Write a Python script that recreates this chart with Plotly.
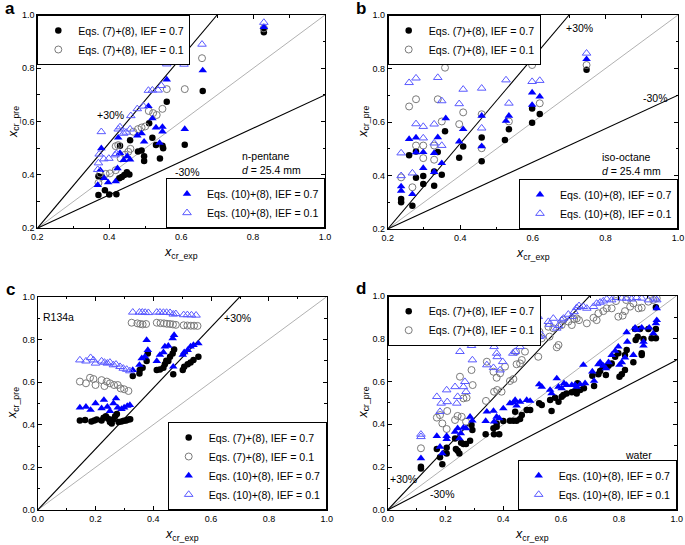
import plotly.graph_objects as go

# ---------------- data (x_cr_exp, x_cr_pre) ----------------
# Panel a: n-pentane
a_eq7_ief07 = [[0.370,0.325],[0.370,0.395],[0.380,0.392],[0.388,0.343],[0.400,0.327],[0.420,0.328],[0.428,0.388],[0.435,0.392],[0.442,0.400],[0.449,0.410],[0.456,0.402],[0.430,0.510],[0.458,0.530],[0.480,0.488],[0.490,0.492],[0.497,0.470],[0.497,0.452],[0.511,0.594],[0.520,0.540],[0.530,0.512],[0.541,0.462],[0.548,0.510],[0.550,0.500],[0.560,0.675],[0.610,0.513],[0.660,0.715],[0.830,0.935],[0.830,0.945]]
a_eq7_ief01 = [[0.370,0.370],[0.375,0.405],[0.390,0.404],[0.402,0.406],[0.418,0.418],[0.418,0.508],[0.425,0.512],[0.432,0.462],[0.444,0.476],[0.453,0.487],[0.459,0.498],[0.467,0.562],[0.480,0.572],[0.490,0.578],[0.500,0.582],[0.510,0.640],[0.522,0.632],[0.532,0.625],[0.548,0.648],[0.560,0.722],[0.610,0.722],[0.658,0.838],[0.830,0.950]]
a_eq10_ief07 = [[0.368,0.362],[0.375,0.418],[0.378,0.500],[0.386,0.388],[0.397,0.372],[0.418,0.376],[0.423,0.425],[0.425,0.540],[0.430,0.482],[0.440,0.456],[0.450,0.470],[0.458,0.458],[0.478,0.548],[0.490,0.556],[0.497,0.525],[0.509,0.658],[0.520,0.612],[0.530,0.578],[0.540,0.520],[0.548,0.580],[0.548,0.563],[0.560,0.758],[0.610,0.572],[0.660,0.792],[0.830,0.955]]
a_eq10_ief01 = [[0.368,0.420],[0.370,0.445],[0.372,0.478],[0.378,0.562],[0.385,0.460],[0.399,0.462],[0.416,0.475],[0.420,0.480],[0.425,0.572],[0.430,0.580],[0.440,0.556],[0.447,0.560],[0.458,0.572],[0.460,0.622],[0.478,0.648],[0.495,0.658],[0.509,0.717],[0.520,0.718],[0.536,0.718],[0.545,0.735],[0.560,0.816],[0.608,0.815],[0.658,0.890],[0.830,0.972]]

# Panel b: iso-octane
b_eq7_ief07 = [[0.237,0.300],[0.237,0.312],[0.268,0.287],[0.259,0.476],[0.278,0.490],[0.278,0.392],[0.298,0.368],[0.298,0.398],[0.328,0.362],[0.328,0.415],[0.338,0.488],[0.349,0.403],[0.358,0.565],[0.397,0.466],[0.408,0.508],[0.459,0.453],[0.459,0.542],[0.523,0.533],[0.534,0.573],[0.598,0.597],[0.598,0.650],[0.619,0.630],[0.748,0.795]]
b_eq7_ief01 = [[0.237,0.393],[0.259,0.658],[0.268,0.356],[0.278,0.685],[0.278,0.512],[0.298,0.512],[0.298,0.465],[0.328,0.459],[0.328,0.512],[0.338,0.685],[0.349,0.602],[0.358,0.803],[0.397,0.592],[0.408,0.636],[0.459,0.629],[0.459,0.502],[0.534,0.602],[0.598,0.813],[0.619,0.670],[0.748,0.813]]
b_eq10_ief07 = [[0.237,0.359],[0.237,0.343],[0.259,0.536],[0.268,0.330],[0.278,0.542],[0.278,0.486],[0.298,0.487],[0.298,0.428],[0.328,0.413],[0.328,0.484],[0.338,0.543],[0.349,0.446],[0.360,0.614],[0.397,0.527],[0.408,0.573],[0.459,0.623],[0.459,0.509],[0.526,0.604],[0.534,0.623],[0.598,0.710],[0.598,0.664],[0.619,0.695],[0.748,0.835]]
b_eq10_ief01 = [[0.237,0.484],[0.237,0.399],[0.259,0.747],[0.268,0.409],[0.278,0.764],[0.278,0.593],[0.298,0.583],[0.298,0.540],[0.328,0.592],[0.328,0.521],[0.338,0.766],[0.349,0.679],[0.349,0.512],[0.360,0.860],[0.397,0.668],[0.408,0.722],[0.459,0.726],[0.459,0.577],[0.526,0.757],[0.534,0.670],[0.598,0.863],[0.598,0.751],[0.619,0.755],[0.748,0.857]]

# Panel c: R134a
c_eq7_ief07 = [[0.146,0.420],[0.164,0.422],[0.186,0.415],[0.196,0.420],[0.204,0.424],[0.221,0.420],[0.228,0.432],[0.236,0.440],[0.244,0.428],[0.250,0.412],[0.256,0.405],[0.262,0.425],[0.268,0.440],[0.274,0.450],[0.280,0.412],[0.290,0.415],[0.298,0.418],[0.306,0.420],[0.314,0.424],[0.320,0.425],
               [0.329,0.628],[0.352,0.640],[0.353,0.656],[0.363,0.667],[0.377,0.698],[0.381,0.734],[0.412,0.656],[0.423,0.659],[0.435,0.667],[0.440,0.683],[0.445,0.700],[0.452,0.698],[0.458,0.719],[0.467,0.734],[0.472,0.753],[0.469,0.636],[0.502,0.656],[0.507,0.672],[0.519,0.683],[0.529,0.692],[0.539,0.703],[0.556,0.719]]
c_eq7_ief01 = [[0.146,0.602],[0.167,0.594],[0.181,0.620],[0.193,0.614],[0.200,0.586],[0.221,0.609],[0.231,0.581],[0.239,0.602],[0.250,0.594],[0.264,0.586],[0.277,0.586],[0.287,0.570],[0.299,0.566],[0.314,0.558],
               [0.325,0.878],[0.345,0.875],[0.355,0.872],[0.363,0.870],[0.375,0.872],[0.412,0.878],[0.425,0.876],[0.437,0.875],[0.447,0.873],[0.458,0.872],[0.468,0.870],[0.478,0.868],[0.505,0.866],[0.518,0.865],[0.530,0.864],[0.541,0.864],[0.553,0.863]]
c_eq10_ief07 = [[0.146,0.480],[0.167,0.484],[0.183,0.469],[0.200,0.500],[0.221,0.477],[0.229,0.516],[0.241,0.484],[0.250,0.464],[0.262,0.500],[0.271,0.523],[0.277,0.480],[0.290,0.473],[0.299,0.480],[0.310,0.488],[0.319,0.492],
                [0.329,0.656],[0.352,0.680],[0.360,0.711],[0.371,0.719],[0.377,0.797],[0.381,0.750],[0.412,0.698],[0.423,0.727],[0.435,0.739],[0.440,0.766],[0.452,0.770],[0.467,0.805],[0.472,0.820],[0.469,0.672],[0.502,0.727],[0.507,0.739],[0.519,0.750],[0.529,0.766],[0.539,0.773],[0.556,0.781]]
c_eq10_ief01 = [[0.146,0.703],[0.167,0.698],[0.183,0.714],[0.193,0.703],[0.200,0.688],[0.221,0.698],[0.231,0.692],[0.241,0.688],[0.250,0.692],[0.262,0.680],[0.271,0.683],[0.285,0.672],[0.296,0.664],[0.308,0.659],[0.319,0.652],
                [0.329,0.927],[0.352,0.927],[0.362,0.927],[0.372,0.926],[0.383,0.925],[0.412,0.927],[0.423,0.927],[0.435,0.926],[0.446,0.926],[0.458,0.925],[0.469,0.918],[0.478,0.920],[0.505,0.915],[0.518,0.915],[0.532,0.914],[0.548,0.913]]

# Panel d: water
d_eq7_ief07 = [[0.115,0.194],[0.115,0.202],[0.170,0.285],[0.181,0.246],[0.189,0.213],[0.204,0.291],[0.204,0.264],[0.233,0.334],[0.236,0.285],[0.242,0.277],[0.248,0.264],[0.254,0.314],[0.262,0.308],[0.271,0.308],[0.285,0.323],[0.293,0.373],[0.290,0.397],
               [0.339,0.353],[0.366,0.381],[0.368,0.353],[0.377,0.389],[0.377,0.404],[0.386,0.353],[0.400,0.415],[0.423,0.417],[0.435,0.417],[0.441,0.459],[0.446,0.417],[0.458,0.425],[0.464,0.443],[0.481,0.467],[0.493,0.467],
               [0.524,0.498],[0.533,0.490],[0.562,0.513],[0.567,0.462],[0.579,0.524],[0.591,0.505],[0.602,0.529],[0.608,0.537],[0.619,0.544],[0.637,0.549],[0.648,0.555],[0.654,0.544],[0.666,0.560],[0.657,0.591],[0.679,0.568],
               [0.708,0.627],[0.714,0.579],[0.729,0.633],[0.735,0.649],[0.746,0.669],[0.755,0.630],[0.764,0.673],[0.775,0.684],[0.787,0.715],[0.798,0.731],[0.802,0.622],[0.810,0.633],[0.821,0.653],[0.821,0.723],[0.827,0.747],
               [0.850,0.689],[0.858,0.793],[0.865,0.809],[0.879,0.731],[0.879,0.723],[0.885,0.798],[0.856,0.845],[0.873,0.845],[0.902,0.845],[0.913,0.801],[0.928,0.801],[0.928,0.845],[0.928,0.946]]
d_eq7_ief01 = [[0.115,0.288],[0.170,0.431],[0.181,0.443],[0.189,0.404],[0.204,0.378],[0.206,0.462],[0.233,0.420],[0.242,0.439],[0.250,0.622],[0.256,0.435],[0.262,0.521],[0.271,0.412],[0.273,0.524],[0.290,0.653],[0.294,0.583],
               [0.340,0.509],[0.343,0.692],[0.366,0.645],[0.368,0.552],[0.377,0.617],[0.379,0.560],[0.389,0.638],[0.394,0.552],[0.406,0.669],[0.423,0.602],[0.433,0.785],[0.435,0.611],[0.444,0.739],[0.446,0.680],[0.458,0.684],[0.458,0.809],[0.464,0.700],[0.475,0.739],[0.487,0.809],
               [0.521,0.715],[0.525,0.832],[0.533,0.801],[0.556,0.855],[0.560,0.809],[0.573,0.848],[0.585,0.759],[0.591,0.770],[0.602,0.863],[0.608,0.886],[0.625,0.879],[0.637,0.863],[0.645,0.891],[0.654,0.894],[0.662,0.886],[0.689,0.871],
               [0.712,0.897],[0.723,0.886],[0.729,0.918],[0.746,0.928],[0.758,0.941],[0.775,0.941],[0.790,0.975],[0.798,0.902],[0.813,0.907],[0.821,0.928],[0.825,0.980],[0.839,0.949],[0.850,0.964],[0.868,0.941],[0.879,0.944],[0.902,0.972],[0.919,0.980],[0.931,0.988]]
d_eq10_ief07 = [[0.115,0.241],[0.170,0.345],[0.181,0.295],[0.189,0.264],[0.204,0.345],[0.204,0.331],[0.233,0.365],[0.242,0.381],[0.248,0.334],[0.253,0.358],[0.262,0.384],[0.271,0.381],[0.285,0.435],[0.293,0.417],
                [0.339,0.415],[0.343,0.459],[0.366,0.462],[0.368,0.412],[0.377,0.435],[0.386,0.428],[0.400,0.474],[0.423,0.498],[0.435,0.502],[0.441,0.513],[0.446,0.487],[0.458,0.505],[0.481,0.513],[0.493,0.509],
                [0.524,0.586],[0.533,0.575],[0.562,0.560],[0.567,0.544],[0.585,0.614],[0.591,0.575],[0.602,0.568],[0.610,0.591],[0.619,0.583],[0.637,0.583],[0.648,0.583],[0.654,0.575],[0.666,0.586],[0.677,0.677],[0.683,0.591],
                [0.708,0.646],[0.714,0.602],[0.729,0.680],[0.735,0.689],[0.746,0.673],[0.755,0.661],[0.764,0.689],[0.775,0.723],[0.787,0.742],[0.798,0.762],[0.802,0.677],[0.810,0.689],[0.821,0.711],[0.827,0.829],[0.829,0.785],
                [0.850,0.723],[0.856,0.851],[0.861,0.840],[0.879,0.851],[0.885,0.785],[0.885,0.767],[0.905,0.851],[0.919,0.824],[0.928,0.871],[0.931,0.886],[0.931,0.941]]
d_eq10_ief01 = [[0.115,0.342],[0.115,0.353],[0.170,0.529],[0.181,0.459],[0.185,0.498],[0.204,0.560],[0.206,0.505],[0.233,0.575],[0.239,0.498],[0.242,0.529],[0.250,0.739],[0.262,0.575],[0.267,0.599],[0.271,0.552],[0.290,0.767],[0.293,0.700],
                [0.340,0.798],[0.343,0.677],[0.366,0.664],[0.368,0.762],[0.377,0.731],[0.379,0.715],[0.389,0.653],[0.398,0.692],[0.400,0.793],[0.429,0.863],[0.433,0.731],[0.441,0.739],[0.446,0.798],[0.458,0.762],[0.464,0.801],[0.475,0.840],[0.487,0.863],
                [0.521,0.902],[0.525,0.809],[0.533,0.816],[0.556,0.879],[0.560,0.866],[0.573,0.894],[0.585,0.848],[0.591,0.860],[0.602,0.886],[0.608,0.894],[0.625,0.913],[0.637,0.902],[0.645,0.925],[0.654,0.944],[0.662,0.953],[0.677,0.949],[0.689,0.941],
                [0.712,0.949],[0.723,0.964],[0.735,0.969],[0.746,0.975],[0.758,0.984],[0.775,0.980],[0.790,0.991],[0.810,0.988],[0.827,0.988],[0.844,0.984],[0.861,0.991],[0.879,0.988],[0.902,0.980],[0.925,0.988],[0.931,0.980]]

# reference lines (start, end) for each panel
lines_ab = {"diag": [[0.2, 0.2], [1.0, 1.0]], "plus30": [[0.2, 0.2], [0.7, 1.0]], "minus30": [[0.2, 0.2], [1.0, 0.7]]}
lines_c = {"diag": [[0.0, 0.0], [1.0, 1.0]], "plus30": [[0.0, 0.0], [0.7, 1.0]]}
lines_d = {"diag": [[0.0, 0.0], [1.0, 1.0]], "plus30": [[0.0, 0.0], [0.7, 1.0]], "minus30": [[0.0, 0.0], [1.0, 0.7]]}

labels = ["Eqs. (7)+(8), IEF = 0.7", "Eqs. (7)+(8), IEF = 0.1",
          "Eqs. (10)+(8), IEF = 0.7", "Eqs. (10)+(8), IEF = 0.1"]

# ---------------- layout geometry ----------------
W, H = 685, 545
FONT = "Arial, Liberation Sans, sans-serif"

def px_x(p):
    return p / W

def px_y(p):
    return 1 - p / H

panels = {
    "a": dict(x=(37.3, 325.0), y=(15.0, 228.3), rng=[0.2, 1.0]),
    "b": dict(x=(387.7, 678.0), y=(15.0, 229.0), rng=[0.2, 1.0]),
    "c": dict(x=(37.7, 326.7), y=(296.7, 510.0), rng=[0.0, 1.0]),
    "d": dict(x=(387.7, 676.7), y=(295.7, 510.0), rng=[0.0, 1.0]),
}

styles = [
    dict(symbol="circle", size=6.5, color="black", line=dict(width=0)),
    dict(symbol="circle-open", size=7, color="#7a7a7a", line=dict(width=1)),
    dict(symbol="triangle-up", size=7.5, color="#0000ff", line=dict(width=0)),
    dict(symbol="triangle-up-open", size=7.5, color="#5a5aff", line=dict(width=1)),
]

fig = go.Figure()

def add_panel(idx, series, line_set, legends):
    sx = "" if idx == 1 else str(idx)
    xa, ya = "x" + sx, "y" + sx
    for name, (p0, p1) in line_set.items():
        fig.add_trace(go.Scatter(
            x=[p0[0], p1[0]], y=[p0[1], p1[1]], mode="lines",
            line=dict(color="#a8a8a8" if name == "diag" else "black",
                      width=0.9 if name == "diag" else 1.1),
            xaxis=xa, yaxis=ya, showlegend=False, hoverinfo="skip"))
    for i, data in enumerate(series):
        fig.add_trace(go.Scatter(
            x=[p[0] for p in data], y=[p[1] for p in data], mode="markers",
            marker=styles[i], name=labels[i], xaxis=xa, yaxis=ya,
            legend=legends[i], showlegend=True))

add_panel(1, [a_eq7_ief07, a_eq7_ief01, a_eq10_ief07, a_eq10_ief01], lines_ab,
          ["legend", "legend", "legend2", "legend2"])
add_panel(2, [b_eq7_ief07, b_eq7_ief01, b_eq10_ief07, b_eq10_ief01], lines_ab,
          ["legend3", "legend3", "legend4", "legend4"])
add_panel(3, [c_eq7_ief07, c_eq7_ief01, c_eq10_ief07, c_eq10_ief01], lines_c,
          ["legend5", "legend5", "legend5", "legend5"])
add_panel(4, [d_eq7_ief07, d_eq7_ief01, d_eq10_ief07, d_eq10_ief01], lines_d,
          ["legend6", "legend6", "legend7", "legend7"])

def axis(rng, dom, anchor):
    return dict(range=rng, domain=dom, anchor=anchor, showline=True, linecolor="black",
                linewidth=1, mirror="ticks", ticks="inside", ticklen=4, tickwidth=1,
                tickcolor="black", dtick=0.2, tick0=0, tickformat=".1f",
                tickfont=dict(size=9, family=FONT, color="black"),
                showgrid=False, zeroline=False, fixedrange=True, automargin=False,
                minor=dict(ticks="inside", ticklen=2.5, dtick=0.1, tick0=0,
                           tickcolor="black", showgrid=False))

layout = dict(width=W, height=H, margin=dict(l=0, r=0, t=0, b=0, autoexpand=False),
              paper_bgcolor="white", plot_bgcolor="white",
              font=dict(family=FONT, color="black"), annotations=[])

for i, key in enumerate(["a", "b", "c", "d"], start=1):
    p = panels[key]
    sx = "" if i == 1 else str(i)
    xd = [px_x(p["x"][0]), px_x(p["x"][1])]
    yd = [px_y(p["y"][1]), px_y(p["y"][0])]
    layout["xaxis" + sx] = axis(p["rng"], xd, "y" + sx)
    layout["yaxis" + sx] = axis(p["rng"], yd, "x" + sx)
    cx = (p["x"][0] + p["x"][1]) / 2
    # axis titles
    layout["annotations"].append(dict(
        text="<i>x</i><sub>cr_exp</sub>", xref="paper", yref="paper",
        x=px_x(cx), y=px_y(p["y"][1] + 25), xanchor="center", yanchor="middle",
        showarrow=False, font=dict(size=12.5, family=FONT)))
    cy = (p["y"][0] + p["y"][1]) / 2
    layout["annotations"].append(dict(
        text="<i>x</i><sub>cr_pre</sub>", xref="paper", yref="paper",
        x=px_x(p["x"][0] - 24), y=px_y(cy), xanchor="center", yanchor="middle",
        textangle=-90, showarrow=False, font=dict(size=12.5, family=FONT)))
    # panel letter
    layout["annotations"].append(dict(
        text="<b>%s</b>" % key, xref="paper", yref="paper",
        x=px_x(p["x"][0] - 27), y=px_y(p["y"][0] - 7), xanchor="center", yanchor="middle",
        showarrow=False, font=dict(size=17, family=FONT)))

def note(text, x, y, axn, anchor="center", align="center"):
    sx = "" if axn == 1 else str(axn)
    layout["annotations"].append(dict(
        text=text, x=x, y=y, xref="x" + sx, yref="y" + sx, xanchor=anchor,
        yanchor="middle", align=align, showarrow=False, font=dict(size=10.5, family=FONT)))

note("+30%", 0.404, 0.625, 1)
note("-30%", 0.619, 0.412, 1)
note("n-pentane<br><i>d</i> = 25.4 mm", 0.765, 0.445, 1, anchor="left", align="left")
note("+30%", 0.729, 0.950, 2)
note("-30%", 0.938, 0.691, 2)
note("iso-octane<br><i>d</i> = 25.4 mm", 0.784, 0.442, 2, anchor="left", align="left")
note("R134a", 0.0715, 0.906, 3)
note("+30%", 0.691, 0.898, 3)
note("+30%", 0.053, 0.145, 4)
note("-30%", 0.188, 0.075, 4)
note("water", 0.869, 0.257, 4)

def legend(x, y, xa, ya):
    return dict(x=x, y=y, xanchor=xa, yanchor=ya, xref="paper", yref="paper",
                bgcolor="white", bordercolor="black", borderwidth=1,
                font=dict(size=10.6, family=FONT, color="black"),
                tracegroupgap=0, itemwidth=30)

pa, pb, pc, pd = panels["a"], panels["b"], panels["c"], panels["d"]
layout["legend"] = legend(px_x(pa["x"][0]), px_y(pa["y"][0]), "left", "top")
layout["legend2"] = legend(px_x(pa["x"][1]), px_y(pa["y"][1]), "right", "bottom")
layout["legend3"] = legend(px_x(pb["x"][0]), px_y(pb["y"][0]), "left", "top")
layout["legend4"] = legend(px_x(pb["x"][1]), px_y(pb["y"][1]), "right", "bottom")
layout["legend5"] = legend(px_x(pc["x"][1]), px_y(pc["y"][1]), "right", "bottom")
layout["legend6"] = legend(px_x(pd["x"][0]), px_y(pd["y"][0]), "left", "top")
layout["legend7"] = legend(px_x(pd["x"][1]), px_y(pd["y"][1]), "right", "bottom")

fig.update_layout(**layout)
fig.write_html("out.html", config={"displayModeBar": False},
               post_script="document.body.style.margin='0px';")
